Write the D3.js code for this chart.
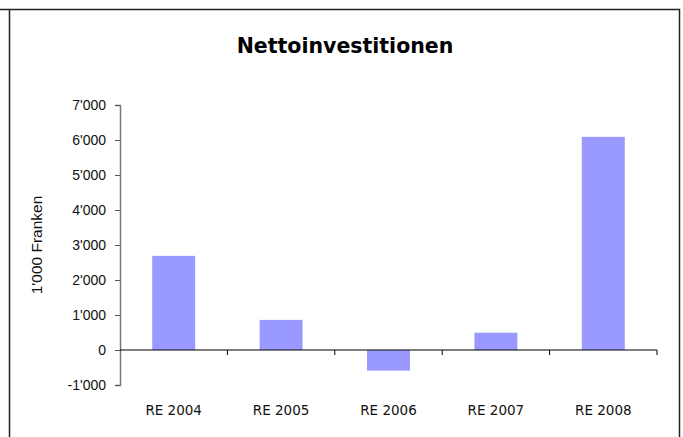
<!DOCTYPE html>
<html>
<head>
<meta charset="utf-8">
<script src="https://cdn.jsdelivr.net/npm/d3@7"></script>
<style>
  html, body { margin: 0; padding: 0; background: #fff; }
  svg { display: block; }
</style>
</head>
<body>
<svg id="chart" width="683" height="437"></svg>
<script>
// Nettoinvestitionen per Rechnungsjahr, in 1'000 Franken
const categories = ["RE 2004", "RE 2005", "RE 2006", "RE 2007", "RE 2008"];
const values = [2690, 860, -590, 495, 6090];
const yTicks = [-1000, 0, 1000, 2000, 3000, 4000, 5000, 6000, 7000];
const yTickLabels = ["-1'000", "0", "1'000", "2'000", "3'000", "4'000", "5'000", "6'000", "7'000"];

const svg = d3.select("#chart");
const W = 683, H = 437;
const plot = { left: 120, right: 657, top: 105, bottom: 385 };

// frame around the chart
svg.append("path")
  .attr("d", `M0,9.5 H679.5 V${H} M9.5,9.5 V${H}`)
  .attr("fill", "none")
  .attr("stroke", "#222")
  .attr("stroke-width", 1.5);

svg.append("text")
  .attr("x", 345).attr("y", 53)
  .attr("text-anchor", "middle")
  .attr("font-family", "DejaVu Sans, sans-serif")
  .attr("font-weight", "bold")
  .attr("font-size", 20.5)
  .attr("fill", "#000")
  .text("Nettoinvestitionen");

const y = d3.scaleLinear().domain([-1000, 7000]).range([plot.bottom, plot.top]);
const x = d3.scaleBand().domain(categories).range([plot.left, plot.right])
  .paddingInner(0.6).paddingOuter(0.3);

// bars
svg.append("g").selectAll("rect").data(values).join("rect")
  .attr("x", (d, i) => x(categories[i]))
  .attr("width", x.bandwidth())
  .attr("y", d => y(Math.max(0, d)))
  .attr("height", d => Math.abs(y(d) - y(0)))
  .attr("fill", "#9999FF");

// y axis
const yAxis = d3.axisLeft(y).tickValues(yTicks)
  .tickFormat((d, i) => yTickLabels[i]).tickSize(5).tickPadding(9);
const gy = svg.append("g").attr("transform", `translate(${plot.left},0)`).call(yAxis);
gy.select(".domain").attr("stroke", "#777").attr("stroke-width", 1.5);
gy.selectAll(".tick line").attr("stroke", "#555");
gy.selectAll(".tick text")
  .attr("font-family", "Liberation Sans, Arial, sans-serif")
  .attr("font-size", 14).attr("fill", "#111");

// x axis along zero, ticks at category boundaries
const step = x.step();
const boundaries = d3.range(categories.length + 1).map(i => plot.left + i * step);
const gx = svg.append("g");
gx.append("line")
  .attr("x1", plot.left).attr("x2", plot.right)
  .attr("y1", y(0)).attr("y2", y(0))
  .attr("stroke", "#000").attr("stroke-width", 1.2);
gx.selectAll("line.tk").data(boundaries.slice(1)).join("line")
  .attr("class", "tk")
  .attr("x1", d => d).attr("x2", d => d)
  .attr("y1", y(0)).attr("y2", y(0) + 5)
  .attr("stroke", "#000");

svg.append("g").selectAll("text").data(categories).join("text")
  .attr("x", d => x(d) + x.bandwidth() / 2)
  .attr("y", 415)
  .attr("text-anchor", "middle")
  .attr("font-family", "DejaVu Sans, sans-serif")
  .attr("font-size", 13.5)
  .attr("fill", "#111")
  .text(d => d);

svg.append("text")
  .attr("transform", `translate(42,${(plot.top + plot.bottom) / 2}) rotate(-90)`)
  .attr("text-anchor", "middle")
  .attr("font-family", "Liberation Sans, Arial, sans-serif")
  .attr("font-size", 15.5)
  .attr("fill", "#111")
  .text("1'000 Franken");
</script>
</body>
</html>
